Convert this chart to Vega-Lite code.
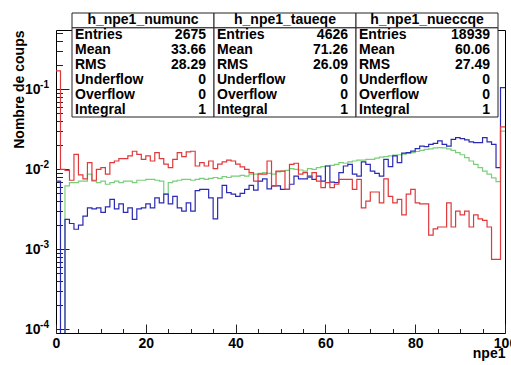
{
  "$schema": "https://vega.github.io/schema/vega-lite/v6.json",
  "width": 449,
  "height": 303,
  "autosize": {"type": "none"},
  "padding": {"left": 56, "top": 30, "right": 6, "bottom": 32},
  "background": "white",
  "config": {"view": {"stroke": "#000", "strokeWidth": 1}, "font": "Liberation Sans"},
  "layer": [
    {
      "data": {"values": [
        {"x":0,"numunc":0.170,"taueqe":0.0071,"nueccqe":1e-7},
        {"x":1,"numunc":0.0100,"taueqe":1e-7,"nueccqe":1e-7},
        {"x":2,"numunc":0.0097,"taueqe":0.00237,"nueccqe":0.0062},
        {"x":3,"numunc":0.0073,"taueqe":0.0021,"nueccqe":0.0068},
        {"x":4,"numunc":0.0154,"taueqe":0.00178,"nueccqe":0.0068},
        {"x":5,"numunc":0.0085,"taueqe":0.0020,"nueccqe":0.0071},
        {"x":6,"numunc":0.0076,"taueqe":0.0026,"nueccqe":0.0071},
        {"x":7,"numunc":0.0121,"taueqe":0.0033,"nueccqe":0.0087},
        {"x":8,"numunc":0.0073,"taueqe":0.0032,"nueccqe":0.0071},
        {"x":9,"numunc":0.0100,"taueqe":0.0033,"nueccqe":0.0068},
        {"x":10,"numunc":0.0105,"taueqe":0.0029,"nueccqe":0.0071},
        {"x":11,"numunc":0.0087,"taueqe":0.0034,"nueccqe":0.0065},
        {"x":12,"numunc":0.0121,"taueqe":0.0042,"nueccqe":0.0068},
        {"x":13,"numunc":0.0127,"taueqe":0.0032,"nueccqe":0.0071},
        {"x":14,"numunc":0.0136,"taueqe":0.0037,"nueccqe":0.0068},
        {"x":15,"numunc":0.0136,"taueqe":0.0029,"nueccqe":0.0071},
        {"x":16,"numunc":0.0147,"taueqe":0.0033,"nueccqe":0.0071},
        {"x":17,"numunc":0.0168,"taueqe":0.00237,"nueccqe":0.0068},
        {"x":18,"numunc":0.0154,"taueqe":0.0032,"nueccqe":0.0073},
        {"x":19,"numunc":0.0133,"taueqe":0.0033,"nueccqe":0.0073},
        {"x":20,"numunc":0.0147,"taueqe":0.0037,"nueccqe":0.0075},
        {"x":21,"numunc":0.0127,"taueqe":0.0033,"nueccqe":0.0075},
        {"x":22,"numunc":0.0162,"taueqe":0.0044,"nueccqe":0.0073},
        {"x":23,"numunc":0.0136,"taueqe":0.0038,"nueccqe":0.0071},
        {"x":24,"numunc":0.0116,"taueqe":0.0049,"nueccqe":0.0049},
        {"x":25,"numunc":0.0105,"taueqe":0.0037,"nueccqe":0.0068},
        {"x":26,"numunc":0.0133,"taueqe":0.0046,"nueccqe":0.0071},
        {"x":27,"numunc":0.0162,"taueqe":0.0033,"nueccqe":0.0073},
        {"x":28,"numunc":0.0144,"taueqe":0.0030,"nueccqe":0.0075},
        {"x":29,"numunc":0.0165,"taueqe":0.0038,"nueccqe":0.0075},
        {"x":30,"numunc":0.0168,"taueqe":0.0030,"nueccqe":0.0073},
        {"x":31,"numunc":0.0110,"taueqe":0.0054,"nueccqe":0.0075},
        {"x":32,"numunc":0.0121,"taueqe":0.0056,"nueccqe":0.0077},
        {"x":33,"numunc":0.0110,"taueqe":0.0056,"nueccqe":0.0075},
        {"x":34,"numunc":0.0127,"taueqe":0.0044,"nueccqe":0.0077},
        {"x":35,"numunc":0.0102,"taueqe":0.0024,"nueccqe":0.0079},
        {"x":36,"numunc":0.0116,"taueqe":0.0044,"nueccqe":0.0077},
        {"x":37,"numunc":0.0124,"taueqe":0.0063,"nueccqe":0.0081},
        {"x":38,"numunc":0.0130,"taueqe":0.0051,"nueccqe":0.0079},
        {"x":39,"numunc":0.0127,"taueqe":0.0049,"nueccqe":0.0082},
        {"x":40,"numunc":0.0116,"taueqe":0.0046,"nueccqe":0.0082},
        {"x":41,"numunc":0.0107,"taueqe":0.0050,"nueccqe":0.0084},
        {"x":42,"numunc":0.0100,"taueqe":0.0056,"nueccqe":0.0082},
        {"x":43,"numunc":0.0091,"taueqe":0.0063,"nueccqe":0.0087},
        {"x":44,"numunc":0.0071,"taueqe":0.0055,"nueccqe":0.0087},
        {"x":45,"numunc":0.0087,"taueqe":0.0071,"nueccqe":0.0089},
        {"x":46,"numunc":0.0087,"taueqe":0.0076,"nueccqe":0.0091},
        {"x":47,"numunc":0.0127,"taueqe":0.0057,"nueccqe":0.0089},
        {"x":48,"numunc":0.0062,"taueqe":0.0062,"nueccqe":0.0087},
        {"x":49,"numunc":0.0095,"taueqe":0.0062,"nueccqe":0.0093},
        {"x":50,"numunc":0.0095,"taueqe":0.0056,"nueccqe":0.0095},
        {"x":51,"numunc":0.0056,"taueqe":0.0056,"nueccqe":0.0097},
        {"x":52,"numunc":0.0115,"taueqe":0.0065,"nueccqe":0.0102},
        {"x":53,"numunc":0.0119,"taueqe":0.0082,"nueccqe":0.0100},
        {"x":54,"numunc":0.0087,"taueqe":0.0076,"nueccqe":0.0098},
        {"x":55,"numunc":0.0091,"taueqe":0.0076,"nueccqe":0.0095},
        {"x":56,"numunc":0.0079,"taueqe":0.0082,"nueccqe":0.0102},
        {"x":57,"numunc":0.0091,"taueqe":0.0075,"nueccqe":0.0100},
        {"x":58,"numunc":0.0071,"taueqe":0.0082,"nueccqe":0.0105},
        {"x":59,"numunc":0.0059,"taueqe":0.0071,"nueccqe":0.0108},
        {"x":60,"numunc":0.0068,"taueqe":0.0110,"nueccqe":0.0110},
        {"x":61,"numunc":0.0059,"taueqe":0.0069,"nueccqe":0.0112},
        {"x":62,"numunc":0.0065,"taueqe":0.0068,"nueccqe":0.0115},
        {"x":63,"numunc":0.0075,"taueqe":0.0091,"nueccqe":0.0121},
        {"x":64,"numunc":0.0075,"taueqe":0.0110,"nueccqe":0.0119},
        {"x":65,"numunc":0.0075,"taueqe":0.0115,"nueccqe":0.0124},
        {"x":66,"numunc":0.0056,"taueqe":0.0087,"nueccqe":0.0127},
        {"x":67,"numunc":0.0075,"taueqe":0.0082,"nueccqe":0.0130},
        {"x":68,"numunc":0.0033,"taueqe":0.0124,"nueccqe":0.0130},
        {"x":69,"numunc":0.0040,"taueqe":0.0115,"nueccqe":0.0133},
        {"x":70,"numunc":0.0052,"taueqe":0.0095,"nueccqe":0.0133},
        {"x":71,"numunc":0.0052,"taueqe":0.0089,"nueccqe":0.0138},
        {"x":72,"numunc":0.0038,"taueqe":0.0082,"nueccqe":0.0142},
        {"x":73,"numunc":0.0076,"taueqe":0.0133,"nueccqe":0.0144},
        {"x":74,"numunc":0.0046,"taueqe":0.0108,"nueccqe":0.0147},
        {"x":75,"numunc":0.0038,"taueqe":0.0147,"nueccqe":0.0150},
        {"x":76,"numunc":0.0042,"taueqe":0.0121,"nueccqe":0.0152},
        {"x":77,"numunc":0.0027,"taueqe":0.0159,"nueccqe":0.0155},
        {"x":78,"numunc":0.0049,"taueqe":0.0162,"nueccqe":0.0158},
        {"x":79,"numunc":0.0056,"taueqe":0.0169,"nueccqe":0.0162},
        {"x":80,"numunc":0.0038,"taueqe":0.0181,"nueccqe":0.0167},
        {"x":81,"numunc":0.0037,"taueqe":0.0195,"nueccqe":0.0172},
        {"x":82,"numunc":0.0037,"taueqe":0.0192,"nueccqe":0.0177},
        {"x":83,"numunc":0.0015,"taueqe":0.0205,"nueccqe":0.0180},
        {"x":84,"numunc":0.0018,"taueqe":0.0211,"nueccqe":0.0185},
        {"x":85,"numunc":0.0019,"taueqe":0.0226,"nueccqe":0.0187},
        {"x":86,"numunc":0.0019,"taueqe":0.0205,"nueccqe":0.0185},
        {"x":87,"numunc":0.0038,"taueqe":0.0195,"nueccqe":0.0180},
        {"x":88,"numunc":0.0019,"taueqe":0.0237,"nueccqe":0.0172},
        {"x":89,"numunc":0.0030,"taueqe":0.0249,"nueccqe":0.0162},
        {"x":90,"numunc":0.0027,"taueqe":0.0242,"nueccqe":0.0152},
        {"x":91,"numunc":0.0030,"taueqe":0.0233,"nueccqe":0.0140},
        {"x":92,"numunc":0.0019,"taueqe":0.0220,"nueccqe":0.0127},
        {"x":93,"numunc":0.0027,"taueqe":0.0215,"nueccqe":0.0115},
        {"x":94,"numunc":0.0024,"taueqe":0.0215,"nueccqe":0.0105},
        {"x":95,"numunc":0.0023,"taueqe":0.0249,"nueccqe":0.0095},
        {"x":96,"numunc":0.0019,"taueqe":0.0220,"nueccqe":0.0087},
        {"x":97,"numunc":0.00075,"taueqe":0.0205,"nueccqe":0.0078},
        {"x":98,"numunc":0.00075,"taueqe":0.0105,"nueccqe":0.0070},
        {"x":99,"numunc":0.034,"taueqe":0.105,"nueccqe":0.030},
        {"x":100,"numunc":0.034,"taueqe":0.105,"nueccqe":0.030}
      ]},
      "transform": [{"fold": ["nueccqe", "taueqe", "numunc"], "as": ["hist", "v"]}],
      "layer": [
        {
          "mark": {"type": "line", "interpolate": "step-after", "clip": true, "strokeWidth": 1.2},
          "encoding": {
            "x": {
              "field": "x", "type": "quantitative",
              "scale": {"domain": [0, 100], "nice": false, "zero": false},
              "axis": {
                "orient": "bottom",
                "values": [0,5,10,15,20,25,30,35,40,45,50,55,60,65,70,75,80,85,90,95,100],
                "labelExpr": "datum.value % 20 === 0 ? datum.label : ''",
                "tickSize": {"condition": {"test": "datum.value % 20 === 0", "value": -9}, "value": -4.5},
                "tickColor": "#222", "tickWidth": 1,
                "domain": false, "grid": false,
                "labelPadding": 12.5, "labelFlush": false, "labelOverlap": false,
                "labelFont": "Liberation Sans", "labelFontWeight": "bold", "labelFontSize": 14, "labelColor": "#000",
                "title": "npe1", "titleAnchor": "end", "titleAlign": "right", "titleBaseline": "alphabetic",
                "titleY": 24.5, "titleFont": "Liberation Sans", "titleFontWeight": "bold", "titleFontSize": 14, "titleColor": "#000"
              }
            },
            "y": {
              "field": "v", "type": "quantitative",
              "scale": {"type": "log", "domain": [0.0000899, 0.551], "nice": false},
              "axis": {
                "orient": "left",
                "values": [0.0001,0.0002,0.0003,0.0004,0.0005,0.0006,0.0007,0.0008,0.0009,0.001,0.002,0.003,0.004,0.005,0.006,0.007,0.008,0.009,0.01,0.02,0.03,0.04,0.05,0.06,0.07,0.08,0.09,0.1,0.2,0.3,0.4,0.5],
                "labelExpr": "indexof([0.0001, 0.001, 0.01, 0.1], datum.value) >= 0 ? '10' : ''",
                "tickSize": {"condition": {"test": "indexof([0.0001, 0.001, 0.01, 0.1], datum.value) >= 0", "value": -13}, "value": -6.5},
                "tickColor": "#222", "tickWidth": 1,
                "domain": false, "grid": false,
                "labelPadding": 29, "labelFlush": false, "labelOverlap": false, "labelBaseline": "middle",
                "labelFont": "Liberation Sans", "labelFontWeight": "bold", "labelFontSize": 14, "labelColor": "#000",
                "title": "Nombre de coups", "titleAnchor": "end", "titlePadding": -2,
                "titleFont": "Liberation Sans", "titleFontWeight": "bold", "titleFontSize": 14, "titleColor": "#000"
              }
            },
            "color": {
              "field": "hist", "type": "nominal",
              "scale": {"domain": ["nueccqe", "taueqe", "numunc"], "range": ["#7acf7a", "#2a2ab4", "#e0393b"]},
              "legend": null
            }
          }
        },
        {
          "mark": {"type": "line", "opacity": 0},
          "encoding": {
            "x": {"field": "x", "type": "quantitative", "axis": null},
            "y": {
              "field": "v", "type": "quantitative",
              "axis": {
                "orient": "left",
                "values": [0.0001, 0.001, 0.01, 0.1],
                "labelExpr": "datum.value == 0.0001 ? '-4' : datum.value == 0.001 ? '-3' : datum.value == 0.01 ? '-2' : '-1'",
                "ticks": false, "tickSize": 0, "domain": false, "grid": false,
                "labelPadding": 7.5, "labelOffset": -5, "labelFlush": false, "labelOverlap": false, "labelBaseline": "middle",
                "labelFont": "Liberation Sans", "labelFontWeight": "bold", "labelFontSize": 10, "labelColor": "#000",
                "title": null
              }
            },
            "detail": {"field": "hist"}
          }
        }
      ],
      "resolve": {"axis": {"y": "independent", "x": "independent"}}
    },
    {
      "data": {"values": [
        {"box": "h_npe1_numunc", "stat": "Entries", "val": "2675"},
        {"box": "h_npe1_numunc", "stat": "Mean", "val": "33.66"},
        {"box": "h_npe1_numunc", "stat": "RMS", "val": "28.29"},
        {"box": "h_npe1_numunc", "stat": "Underflow", "val": "0"},
        {"box": "h_npe1_numunc", "stat": "Overflow", "val": "0"},
        {"box": "h_npe1_numunc", "stat": "Integral", "val": "1"},
        {"box": "h_npe1_taueqe", "stat": "Entries", "val": "4626"},
        {"box": "h_npe1_taueqe", "stat": "Mean", "val": "71.26"},
        {"box": "h_npe1_taueqe", "stat": "RMS", "val": "26.09"},
        {"box": "h_npe1_taueqe", "stat": "Underflow", "val": "0"},
        {"box": "h_npe1_taueqe", "stat": "Overflow", "val": "0"},
        {"box": "h_npe1_taueqe", "stat": "Integral", "val": "1"},
        {"box": "h_npe1_nueccqe", "stat": "Entries", "val": "18939"},
        {"box": "h_npe1_nueccqe", "stat": "Mean", "val": "60.06"},
        {"box": "h_npe1_nueccqe", "stat": "RMS", "val": "27.49"},
        {"box": "h_npe1_nueccqe", "stat": "Underflow", "val": "0"},
        {"box": "h_npe1_nueccqe", "stat": "Overflow", "val": "0"},
        {"box": "h_npe1_nueccqe", "stat": "Integral", "val": "1"}
      ]},
      "encoding": {
        "x": {
          "field": "box", "type": "nominal",
          "scale": {"type": "band", "domain": ["h_npe1_numunc", "h_npe1_taueqe", "h_npe1_nueccqe"], "range": [16, 442], "paddingInner": 0, "paddingOuter": 0},
          "axis": null
        }
      },
      "layer": [
        {
          "transform": [{"filter": "datum.stat === 'Entries'"}],
          "mark": {"type": "rect", "fill": "white", "stroke": "#222", "strokeWidth": 1},
          "encoding": {
            "y": {"datum": "title", "type": "nominal", "bandPosition": 0,
                  "scale": {"type": "band", "domain": ["title", "Entries", "Mean", "RMS", "Underflow", "Overflow", "Integral", "end"], "range": [-17, 101.86], "paddingInner": 0, "paddingOuter": 0},
                  "axis": null},
            "y2": {"datum": "Entries", "bandPosition": 0}
          }
        },
        {
          "transform": [{"filter": "datum.stat === 'Entries'"}],
          "mark": {"type": "rect", "fill": "white", "stroke": "#222", "strokeWidth": 1},
          "encoding": {
            "y": {"datum": "Entries", "type": "nominal", "bandPosition": 0, "axis": null},
            "y2": {"datum": "end", "bandPosition": 0}
          }
        },
        {
          "transform": [{"filter": "datum.stat === 'Entries'"}],
          "mark": {"type": "text", "font": "Liberation Sans", "fontWeight": "bold", "fontSize": 14, "baseline": "middle", "align": "center", "color": "#000"},
          "encoding": {
            "y": {"datum": "title", "type": "nominal", "axis": null},
            "text": {"field": "box"}
          }
        },
        {
          "mark": {"type": "text", "font": "Liberation Sans", "fontWeight": "bold", "fontSize": 14, "baseline": "middle", "align": "left", "dx": 3, "color": "#000"},
          "encoding": {
            "x": {"field": "box", "type": "nominal", "bandPosition": 0},
            "y": {"field": "stat", "type": "nominal", "axis": null},
            "text": {"field": "stat"}
          }
        },
        {
          "mark": {"type": "text", "font": "Liberation Sans", "fontWeight": "bold", "fontSize": 14, "baseline": "middle", "align": "right", "dx": -8, "color": "#000"},
          "encoding": {
            "x": {"field": "box", "type": "nominal", "bandPosition": 1},
            "y": {"field": "stat", "type": "nominal", "axis": null},
            "text": {"field": "val"}
          }
        }
      ]
    }
  ],
  "resolve": {"scale": {"x": "independent", "y": "independent"}}
}
